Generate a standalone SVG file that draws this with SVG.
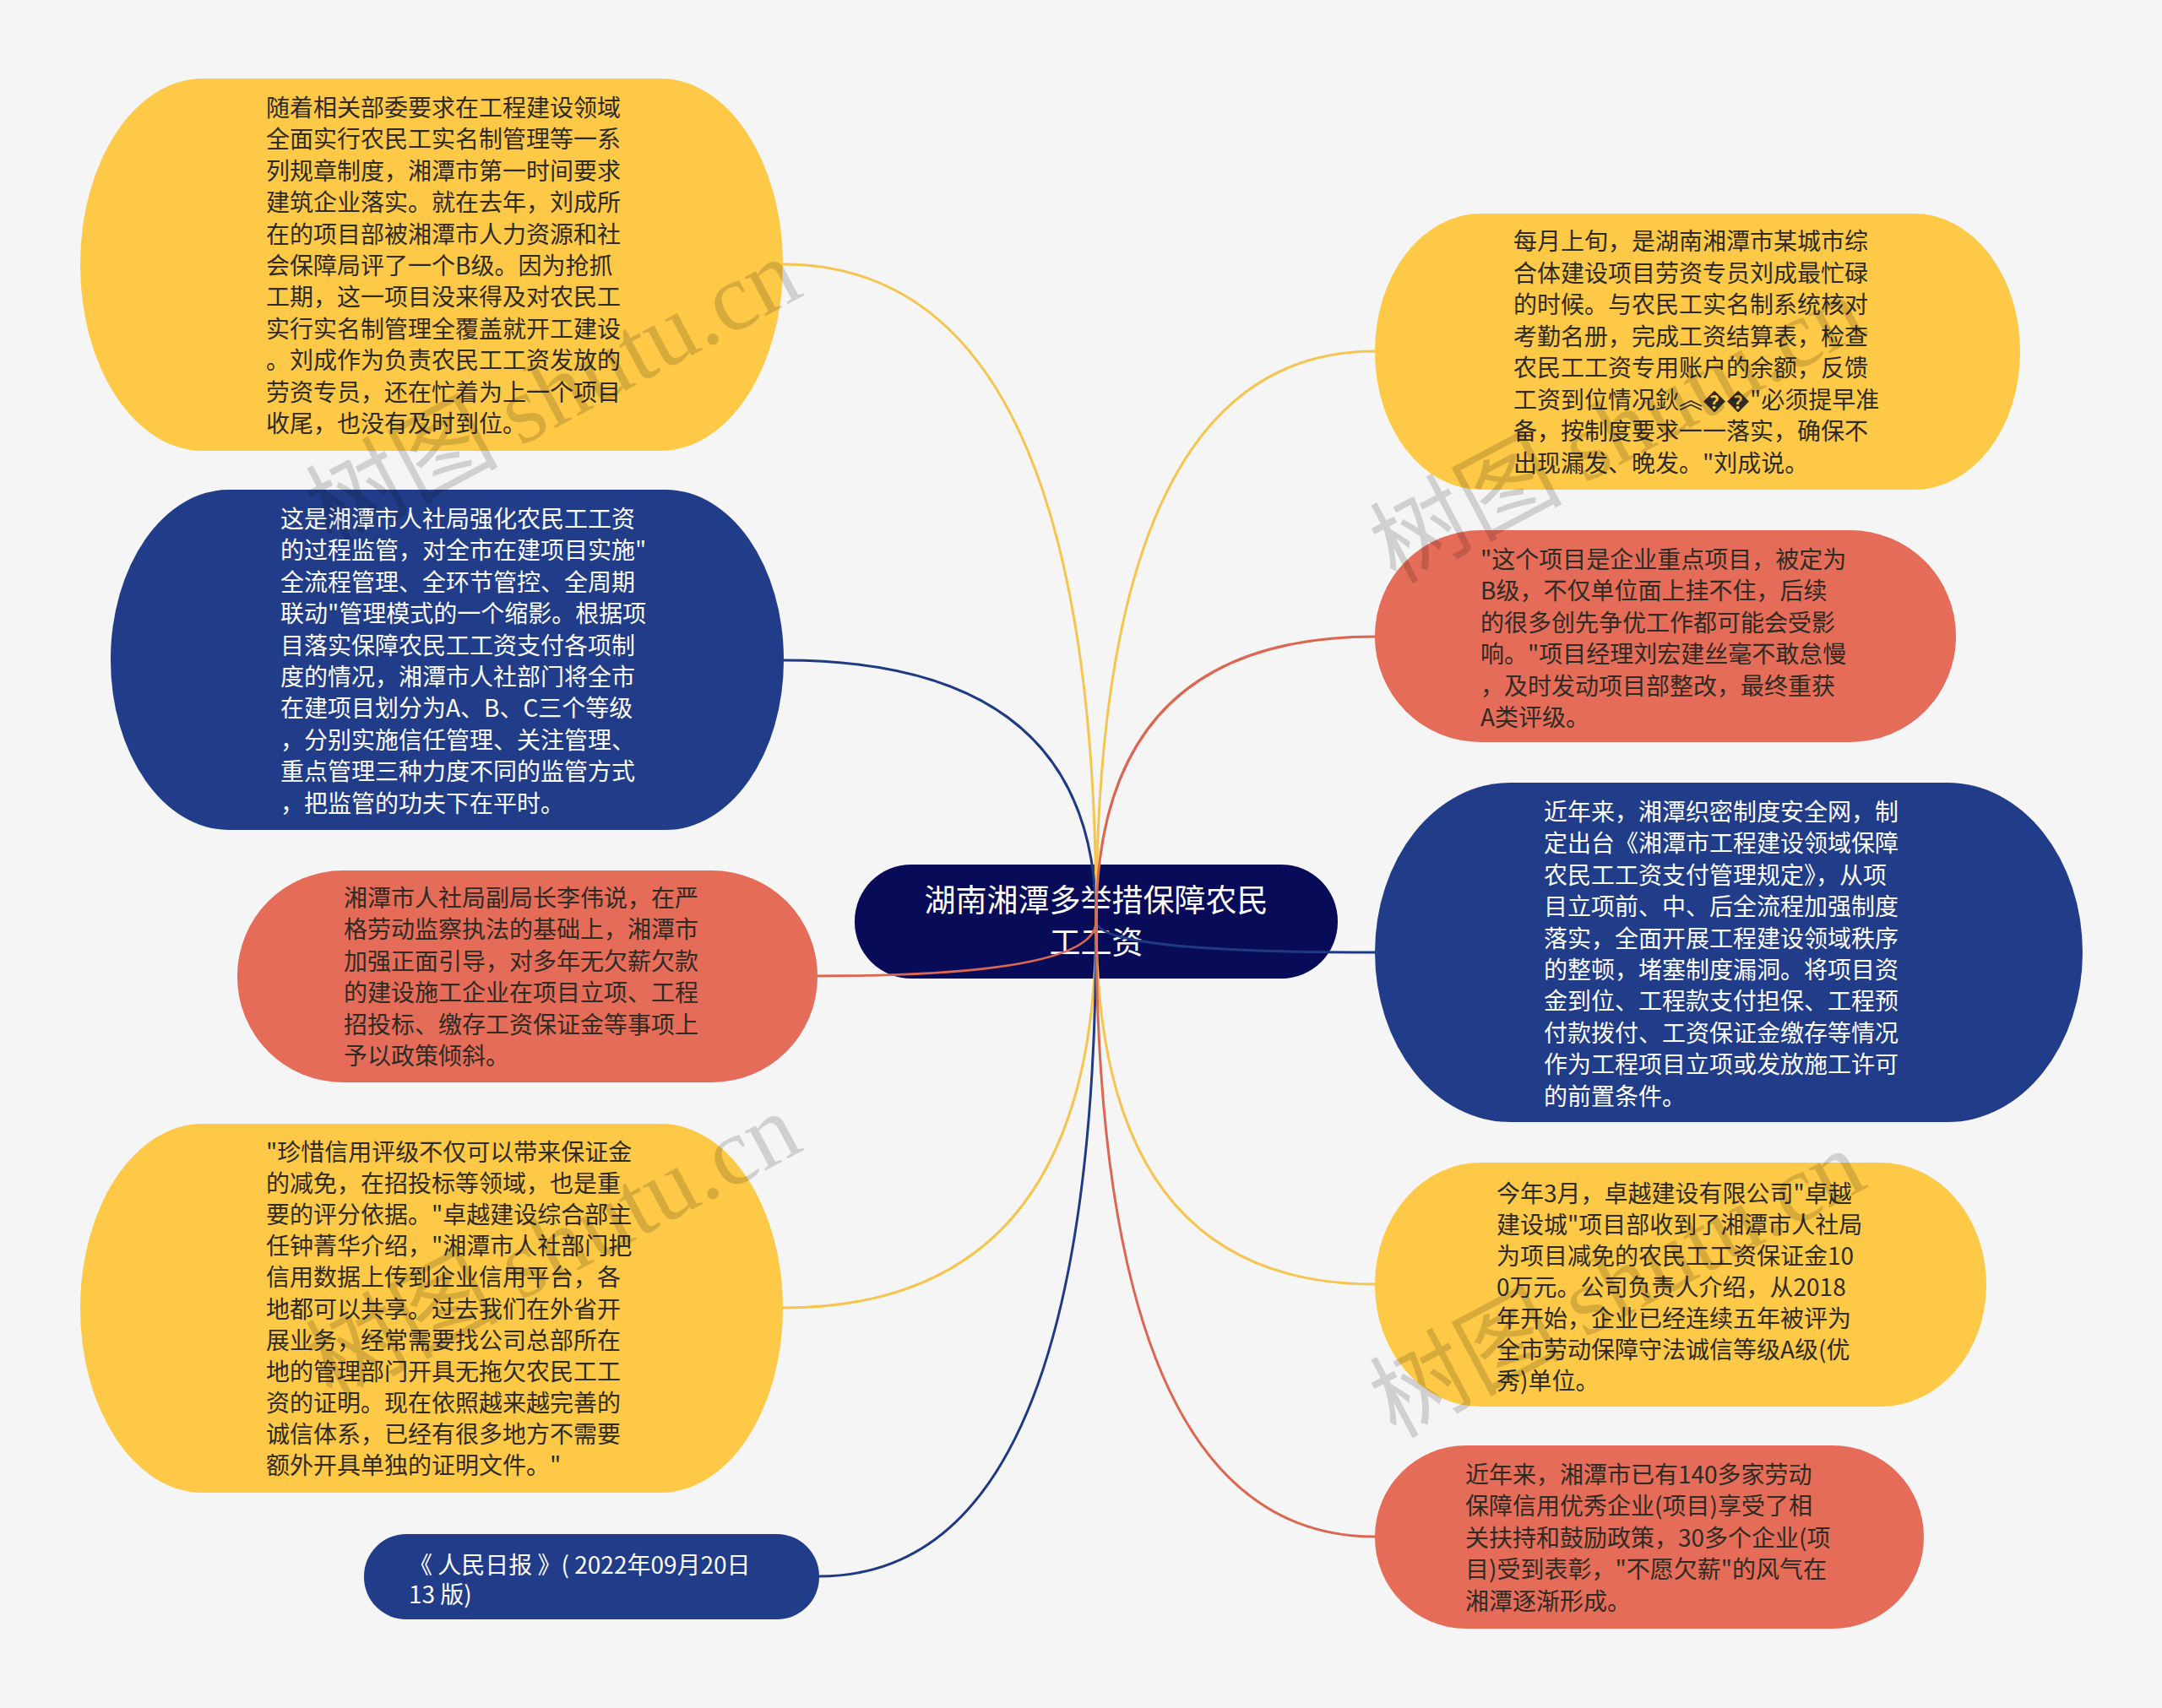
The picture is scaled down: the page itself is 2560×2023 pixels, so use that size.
<svg xmlns="http://www.w3.org/2000/svg" width="2560" height="2023" viewBox="0 0 2560 2023">
<style>
.t{font-family:"Noto Sans CJK SC","Microsoft YaHei",sans-serif;font-size:28px}
.dk{fill:#2e2a24}
.wt{fill:#ffffff}
.yel{fill:#FDC946}
.red{fill:#E46C58}
.blu{fill:#213D89}
.c{fill:none;stroke-width:3;stroke-linecap:round}
.cy{stroke:#F5C54F}
.cr{stroke:#DB6651}
.cb{stroke:#1F3A85}
.wm{font-family:"Noto Sans CJK SC","Liberation Serif",serif;font-size:114px;fill:#000;fill-opacity:0.15}
.wm2{font-family:"Liberation Serif",serif}
</style>
<rect x="0" y="0" width="2560" height="2023" fill="#F5F5F5"/>

<g id="center">
<rect x="1012" y="1024" width="572" height="135" rx="67" ry="67" fill="#080C58"/>
<text class="t wt" text-anchor="middle" style="font-size:37px"><tspan x="1298" y="1080">湖南湘潭多举措保障农民</tspan><tspan x="1298" y="1130">工工资</tspan></text>
</g>

<g id="connectors">
<path class="c cy" d="M1298 1091 Q1298 313 927 313"/>
<path class="c cb" d="M1298 1091 Q1298 782 928 782"/>
<path class="c cr" d="M1298 1091 Q1298 1156 968 1156"/>
<path class="c cy" d="M1298 1091 Q1298 1549 927 1549"/>
<path class="c cb" d="M1298 1091 Q1298 1867 970 1867"/>
<path class="c cy" d="M1298 1091 Q1298 416 1628 416"/>
<path class="c cr" d="M1298 1091 Q1298 754 1628 754"/>
<path class="c cb" d="M1298 1091 Q1298 1128 1628 1128"/>
<path class="c cy" d="M1298 1091 Q1298 1521 1628 1521"/>
<path class="c cr" d="M1298 1091 Q1298 1820 1628 1820"/>
</g>

<g id="n-l1">
<rect class="yel" x="95" y="93" width="832" height="441" rx="145" ry="220"/>
<text class="t dk"><tspan x="315" y="138">随着相关部委要求在工程建设领域</tspan><tspan x="315" y="175.4">全面实行农民工实名制管理等一系</tspan><tspan x="315" y="212.8">列规章制度，湘潭市第一时间要求</tspan><tspan x="315" y="250.2">建筑企业落实。就在去年，刘成所</tspan><tspan x="315" y="287.6">在的项目部被湘潭市人力资源和社</tspan><tspan x="315" y="325">会保障局评了一个B级。因为抢抓</tspan><tspan x="315" y="362.4">工期，这一项目没来得及对农民工</tspan><tspan x="315" y="399.8">实行实名制管理全覆盖就开工建设</tspan><tspan x="315" y="437.2">。刘成作为负责农民工工资发放的</tspan><tspan x="315" y="474.6">劳资专员，还在忙着为上一个项目</tspan><tspan x="315" y="512">收尾，也没有及时到位。</tspan></text>
</g>

<g id="n-l2">
<rect class="blu" x="131" y="580" width="797" height="403" rx="140" ry="201"/>
<text class="t wt"><tspan x="332" y="625">这是湘潭市人社局强化农民工工资</tspan><tspan x="332" y="662.4">的过程监管，对全市在建项目实施"</tspan><tspan x="332" y="699.8">全流程管理、全环节管控、全周期</tspan><tspan x="332" y="737.2">联动"管理模式的一个缩影。根据项</tspan><tspan x="332" y="774.6">目落实保障农民工工资支付各项制</tspan><tspan x="332" y="812">度的情况，湘潭市人社部门将全市</tspan><tspan x="332" y="849.4">在建项目划分为A、B、C三个等级</tspan><tspan x="332" y="886.8">，分别实施信任管理、关注管理、</tspan><tspan x="332" y="924.2">重点管理三种力度不同的监管方式</tspan><tspan x="332" y="961.6">，把监管的功夫下在平时。</tspan></text>
</g>

<g id="n-l3">
<rect class="red" x="281" y="1031" width="687" height="251" rx="125" ry="125"/>
<text class="t dk"><tspan x="407" y="1074">湘潭市人社局副局长李伟说，在严</tspan><tspan x="407" y="1111.4">格劳动监察执法的基础上，湘潭市</tspan><tspan x="407" y="1148.8">加强正面引导，对多年无欠薪欠款</tspan><tspan x="407" y="1186.2">的建设施工企业在项目立项、工程</tspan><tspan x="407" y="1223.6">招投标、缴存工资保证金等事项上</tspan><tspan x="407" y="1261">予以政策倾斜。</tspan></text>
</g>

<g id="n-l4">
<rect class="yel" x="95" y="1331" width="832" height="437" rx="145" ry="218"/>
<text class="t dk"><tspan x="315" y="1375">"珍惜信用评级不仅可以带来保证金</tspan><tspan x="315" y="1412.1">的减免，在招投标等领域，也是重</tspan><tspan x="315" y="1449.2">要的评分依据。"卓越建设综合部主</tspan><tspan x="315" y="1486.3">任钟菁华介绍，"湘潭市人社部门把</tspan><tspan x="315" y="1523.4">信用数据上传到企业信用平台，各</tspan><tspan x="315" y="1560.5">地都可以共享。过去我们在外省开</tspan><tspan x="315" y="1597.6">展业务，经常需要找公司总部所在</tspan><tspan x="315" y="1634.7">地的管理部门开具无拖欠农民工工</tspan><tspan x="315" y="1671.8">资的证明。现在依照越来越完善的</tspan><tspan x="315" y="1708.9">诚信体系，已经有很多地方不需要</tspan><tspan x="315" y="1746">额外开具单独的证明文件。"</tspan></text>
</g>

<g id="n-l5">
<rect class="blu" x="431" y="1817" width="539" height="101" rx="50" ry="50"/>
<text class="t wt"><tspan x="484" y="1864">《 人民日报 》( 2022年09月20日</tspan><tspan x="484" y="1899">13 版)</tspan></text>
</g>

<g id="n-r1">
<rect class="yel" x="1628" y="253" width="764" height="327" rx="125" ry="163"/>
<text class="t dk"><tspan x="1792" y="296">每月上旬，是湖南湘潭市某城市综</tspan><tspan x="1792" y="333.5">合体建设项目劳资专员刘成最忙碌</tspan><tspan x="1792" y="371">的时候。与农民工实名制系统核对</tspan><tspan x="1792" y="408.5">考勤名册，完成工资结算表，检查</tspan><tspan x="1792" y="446">农民工工资专用账户的余额，反馈</tspan><tspan x="1792" y="483.5">工资到位情况鈥︽��"必须提早准</tspan><tspan x="1792" y="521">备，按制度要求一一落实，确保不</tspan><tspan x="1792" y="558.5">出现漏发、晚发。"刘成说。</tspan></text>
</g>

<g id="n-r2">
<rect class="red" x="1628" y="628" width="688" height="251" rx="125" ry="125"/>
<text class="t dk"><tspan x="1753" y="673">"这个项目是企业重点项目，被定为</tspan><tspan x="1753" y="710.4">B级，不仅单位面上挂不住，后续</tspan><tspan x="1753" y="747.8">的很多创先争优工作都可能会受影</tspan><tspan x="1753" y="785.2">响。"项目经理刘宏建丝毫不敢怠慢</tspan><tspan x="1753" y="822.6">，及时发动项目部整改，最终重获</tspan><tspan x="1753" y="860">A类评级。</tspan></text>
</g>

<g id="n-r3">
<rect class="blu" x="1628" y="927" width="838" height="402" rx="160" ry="201"/>
<text class="t wt"><tspan x="1828" y="972">近年来，湘潭织密制度安全网，制</tspan><tspan x="1828" y="1009.4">定出台《湘潭市工程建设领域保障</tspan><tspan x="1828" y="1046.8">农民工工资支付管理规定》，从项</tspan><tspan x="1828" y="1084.2">目立项前、中、后全流程加强制度</tspan><tspan x="1828" y="1121.6">落实，全面开展工程建设领域秩序</tspan><tspan x="1828" y="1159">的整顿，堵塞制度漏洞。将项目资</tspan><tspan x="1828" y="1196.4">金到位、工程款支付担保、工程预</tspan><tspan x="1828" y="1233.8">付款拨付、工资保证金缴存等情况</tspan><tspan x="1828" y="1271.2">作为工程项目立项或发放施工许可</tspan><tspan x="1828" y="1308.6">的前置条件。</tspan></text>
</g>

<g id="n-r4">
<rect class="yel" x="1628" y="1377" width="724" height="289" rx="125" ry="144"/>
<text class="t dk"><tspan x="1772" y="1424">今年3月，卓越建设有限公司"卓越</tspan><tspan x="1772" y="1461">建设城"项目部收到了湘潭市人社局</tspan><tspan x="1772" y="1498">为项目减免的农民工工资保证金10</tspan><tspan x="1772" y="1535">0万元。公司负责人介绍，从2018</tspan><tspan x="1772" y="1572">年开始，企业已经连续五年被评为</tspan><tspan x="1772" y="1609">全市劳动保障守法诚信等级A级(优</tspan><tspan x="1772" y="1646">秀)单位。</tspan></text>
</g>

<g id="n-r5">
<rect class="red" x="1628" y="1712" width="650" height="217" rx="108" ry="108"/>
<text class="t dk"><tspan x="1735" y="1757">近年来，湘潭市已有140多家劳动</tspan><tspan x="1735" y="1794.4">保障信用优秀企业(项目)享受了相</tspan><tspan x="1735" y="1831.8">关扶持和鼓励政策，30多个企业(项</tspan><tspan x="1735" y="1869.2">目)受到表彰，"不愿欠薪"的风气在</tspan><tspan x="1735" y="1906.6">湘潭逐渐形成。</tspan></text>
</g>

<g id="watermarks">
<text class="wm" transform="translate(392,648) rotate(-28)">树图 <tspan class="wm2">shutu.cn</tspan></text>
<text class="wm" transform="translate(392,1660) rotate(-28)">树图 <tspan class="wm2">shutu.cn</tspan></text>
<text class="wm" transform="translate(1652,692) rotate(-28)">树图 <tspan class="wm2">shutu.cn</tspan></text>
<text class="wm" transform="translate(1652,1704) rotate(-28)">树图 <tspan class="wm2">shutu.cn</tspan></text>
</g>
</svg>
